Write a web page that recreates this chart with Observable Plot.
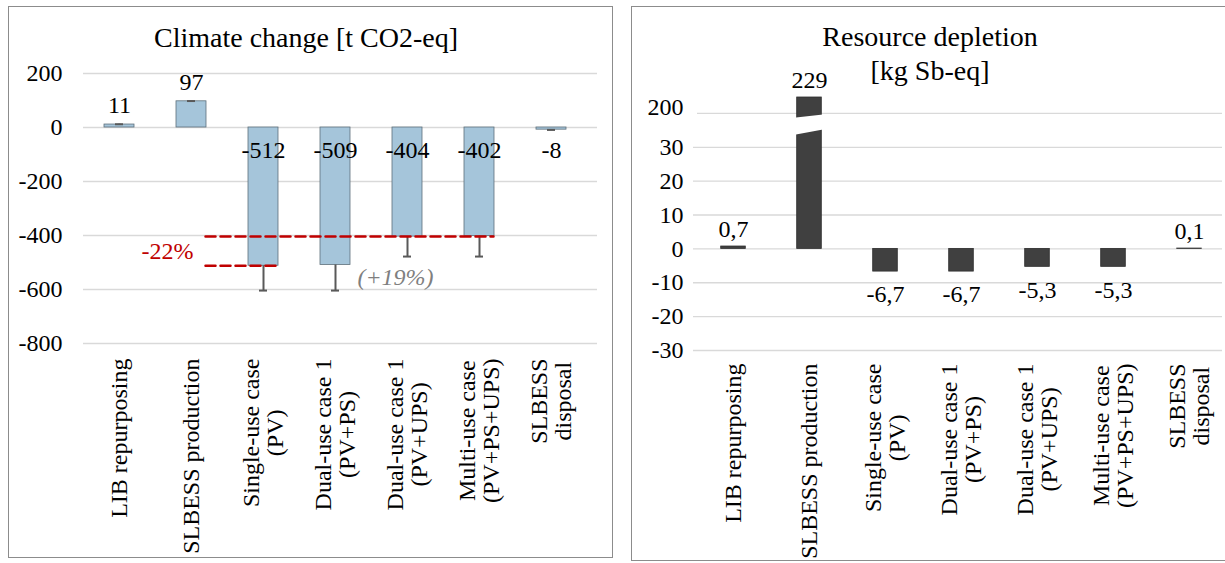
<!DOCTYPE html>
<html><head><meta charset="utf-8">
<script src="https://cdn.jsdelivr.net/npm/d3@7"></script>
<script src="https://cdn.jsdelivr.net/npm/@observablehq/plot@0.6"></script>
<style>
body{margin:0;background:#fff;width:1225px;height:563px;overflow:hidden;position:relative;font-family:"Liberation Serif",serif;}
.frame{position:absolute;border:1px solid #8c8c8c;box-sizing:border-box;}
.title{position:absolute;text-align:center;font-size:28px;line-height:34px;color:#000;}
.chart{position:absolute;top:0;}
svg, svg text, svg tspan{font-family:"Liberation Serif",serif !important;font-variant:normal !important;font-variant-numeric:normal !important;}
</style></head><body>
<div class="frame" style="left:8px;top:6px;width:605px;height:552px"></div>
<div class="frame" style="left:631px;top:6px;width:610px;height:555px"></div>
<div id="left" class="chart" style="left:0"></div>
<div id="right" class="chart" style="left:620px"></div>
<div class="title" style="left:8px;width:596px;top:21px">Climate change [t CO2-eq]</div>
<div class="title" style="left:631px;width:598px;top:20px">Resource depletion<br>[kg Sb-eq]</div>
<script>
const categories = ["LIB repurposing","SLBESS production","Single-use case\n(PV)","Dual-use case 1\n(PV+PS)","Dual-use case 1\n(PV+UPS)","Multi-use case\n(PV+PS+UPS)","SLBESS\ndisposal"];
const climateValues = [11, 97, -512, -509, -404, -402, -8];
const climateErrorEnds = [12, 98, -604, -604, -478, -478, -9];
const climateTicks = [-800, -600, -400, -200, 0, 200];
const resourceValues = [0.7, 229, -6.7, -6.7, -5.3, -5.3, 0.1];
const resourceTicks = [-30, -20, -10, 0, 10, 20, 30];
const resourceBreakTicks = [200];
const reductionUpper = [{cat: categories[1], v: -404}, {cat: categories[5], v: -404}];
const reductionLower = [{cat: categories[1], v: -512}, {cat: categories[2], v: -512}];
const reductionLabel = [{cat: categories[1], v: -458, t: "-22%"}];
const increaseLabel = [{cat: categories[3], v: -555, t: "(+19%)"}];
const axisBreakAt = 73;
// broken value axis of the resource chart: linear up to 36, then compressed
const brokenAxis = d3.scaleLinear().domain([-30, 36, 200, 229]).range([-30, 36, 40, 44.7]);

const FONT = '"Liberation Serif", serif';
const TXT = {fontFamily: FONT, fontSize: 24, fontVariant: "normal", fill: "#000"};
const ctx = document.createElement("canvas").getContext("2d");
ctx.font = '24px "Liberation Serif"';
const labelLen = c => Math.max(...c.split("\n").map(s => ctx.measureText(s).width));

const climate = categories.map((cat, i) => ({cat, value: climateValues[i], err: climateErrorEnds[i]}));
const resource = categories.map((cat, i) => ({cat, value: resourceValues[i], shown: brokenAxis(resourceValues[i])}));

function xLabels(topOffset) {
  return categories.map(c => Plot.text([c], {
    ...TXT, x: d => d, text: d => d, frameAnchor: "bottom", rotate: -90,
    textAnchor: "middle", lineAnchor: "middle", dy: topOffset + labelLen(c) / 2
  }));
}

const left = Plot.plot({
  width: 620, height: 563, marginLeft: 83, marginRight: 23, marginTop: 73, marginBottom: 220,
  style: {fontFamily: FONT, fontSize: "24px", color: "#000", background: "transparent", overflow: "visible"},
  x: {domain: categories, range: [83, 587], padding: 0, axis: null},
  y: {domain: [-800, 200], axis: null},
  marks: [
    Plot.ruleY(climateTicks, {stroke: "#d9d9d9", strokeWidth: 1.3}),
    Plot.text(climateTicks, {...TXT, y: d => d, text: d => String(d), frameAnchor: "left", textAnchor: "end", dx: -21}),
    Plot.barY(climate, {x: "cat", y: "value", fill: "#a5c5da", stroke: "#5d6f7b", strokeWidth: 0.8, insetLeft: 21, insetRight: 21}),
    Plot.ruleX(climate, {x: "cat", y1: "value", y2: "err", stroke: "#595959", strokeWidth: 2}),
    Plot.tickY(climate, {x: "cat", y: "err", stroke: "#595959", strokeWidth: 2, insetLeft: 32, insetRight: 32}),
    Plot.line(reductionUpper, {x: "cat", y: "v", dx: 14, stroke: "#c00000", strokeWidth: 2.5, strokeDasharray: "10,5"}),
    Plot.line(reductionLower, {x: "cat", y: "v", dx: 14, stroke: "#c00000", strokeWidth: 2.5, strokeDasharray: "10,5"}),
    Plot.text(reductionLabel, {...TXT, x: "cat", y: "v", text: "t", dx: -24, fill: "#c00000"}),
    Plot.text(increaseLabel, {...TXT, x: "cat", y: "v", text: "t", dx: 60, fill: "#7f7f7f", fontStyle: "italic"}),
    Plot.text(climate.filter(d => d.value >= 0), {...TXT, x: "cat", y: "value", text: d => String(d.value), dy: -19}),
    Plot.text(climate.filter(d => d.value < 0), {...TXT, x: "cat", y: 0, text: d => String(d.value), dy: 23}),
    ...xLabels(15)
  ]
});
document.getElementById("left").append(left);

const breakSymbol = {draw(c) { c.moveTo(-13.5, -6.5); c.lineTo(13.5, -9.5); c.lineTo(13.5, 5.5); c.lineTo(-13.5, 10.5); c.closePath(); }};

const right = Plot.plot({
  width: 605, height: 563, marginLeft: 73, marginRight: 3, marginTop: 97, marginBottom: 213,
  style: {fontFamily: FONT, fontSize: "24px", color: "#000", background: "transparent", overflow: "visible"},
  x: {domain: categories, range: [73, 608], padding: 0, axis: null},
  y: {domain: [brokenAxis(-30), brokenAxis(229)], axis: null},
  marks: [
    Plot.ruleY(resourceTicks, {y: d => brokenAxis(d), stroke: "#d9d9d9", strokeWidth: 1.3}),
    Plot.ruleY(resourceBreakTicks, {y: d => brokenAxis(d), stroke: "#d9d9d9", strokeWidth: 1.3, insetLeft: 4}),
    Plot.text(resourceTicks, {...TXT, y: d => brokenAxis(d), text: d => String(d), frameAnchor: "left", textAnchor: "end", dx: -10}),
    Plot.text(resourceBreakTicks, {...TXT, y: d => brokenAxis(d), text: d => String(d), frameAnchor: "left", textAnchor: "end", dx: -10, dy: -6}),
    Plot.barY(resource, {x: "cat", y: "shown", fill: "#404040", stroke: "#2e2e2e", strokeWidth: 0.8, insetLeft: 25.7, insetRight: 25.7}),
    Plot.dot([{cat: categories[1], v: brokenAxis(axisBreakAt)}], {x: "cat", y: "v", symbol: breakSymbol, fill: "white", stroke: "none"}),
    Plot.text(resource.filter(d => d.value >= 0), {...TXT, x: "cat", y: "shown", text: d => String(d.value).replace(".", ","), dy: -17}),
    Plot.text(resource.filter(d => d.value < 0), {...TXT, x: "cat", y: "shown", text: d => String(d.value).replace(".", ","), dy: 23}),
    ...xLabels(13)
  ]
});
document.getElementById("right").append(right);
</script>
</body></html>
